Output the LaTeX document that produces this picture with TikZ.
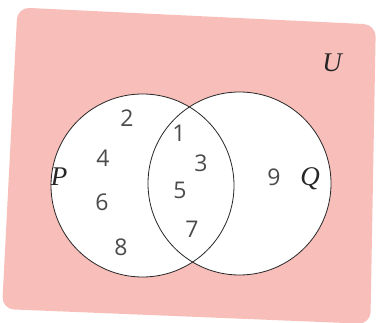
\documentclass[tikz,border=0pt]{standalone}
\usepackage{fontspec}
\setmainfont{Liberation Serif}
\newfontfamily\digitfont{Open Sans}
\usetikzlibrary{positioning}
\definecolor{univpink}{RGB}{248,190,185}
\definecolor{digitgray}{RGB}{75,75,75}
\tikzset{
  universe/.style={fill=univpink, rounded corners=12pt},
  setcircle/.style={draw=black!85, line width=0.8pt},
  elem/.style={inner sep=0pt, font=\digitfont\fontsize{23}{23}\selectfont, text=digitgray},
  setname/.style={inner sep=0pt, font=\itshape\fontsize{27}{27}\selectfont, text=black!85}
}

\begin{document}
\begin{tikzpicture}[x=1pt, y=-1pt]
\useasboundingbox (0,0) rectangle (378,323);
% universal set
\fill[universe] (17.5,7.4) -- (375.8,24.6) -- (370.4,324) -- (2,309) -- cycle;
\coordinate (pc) at (142.5,185.5);
\coordinate (qc) at (239.5,183.5);
\fill[white] (pc) circle[radius=91.5];
\fill[white] (qc) circle[radius=91.5];
\draw[setcircle] (pc) circle[radius=91.5];
\draw[setcircle] (qc) circle[radius=91.5];
% labels
\node[setname] (U) at (332,63) {U};
\node[setname] (P) at (59,177) {P};
\node[setname] (Q) at (310,179) {Q};
% elements
\node[elem] (e2) at (127,118) {2};
\node[elem] (e4) at (103,158) {4};
\node[elem] (e6) at (102,202) {6};
\node[elem] (e8) at (121,247) {8};
\node[elem] (e1) at (179,133) {1};
\node[elem] (e3) at (201,163) {3};
\node[elem] (e5) at (180,190) {5};
\node[elem] (e7) at (192,229) {7};
\node[elem] (e9) at (274,177) {9};
\end{tikzpicture}
\end{document}
